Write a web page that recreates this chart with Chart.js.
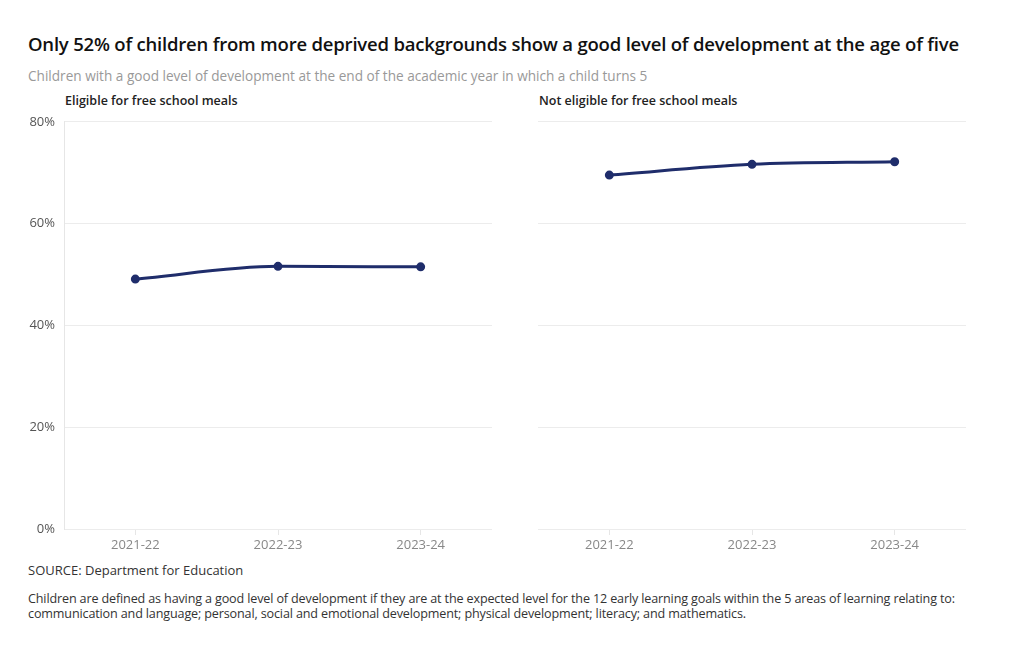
<!DOCTYPE html>
<html>
<head>
<meta charset="utf-8">
<script src="https://cdn.jsdelivr.net/npm/chart.js@4"></script>
<style>
  body { margin: 0; background: #fff; font-family: "Open Sans", sans-serif; }
  .wrap { position: relative; width: 1020px; height: 650px; }
  h1 { position: absolute; left: 28px; top: 31px; margin: 0; font-size: 18.5px; font-weight: 600; color: #111; letter-spacing: -0.2px; }
  .sub { position: absolute; left: 28px; top: 66px; font-size: 13.6px; color: #999; }
  .ptitle { position: absolute; top: 92px; font-size: 12.5px; font-weight: 600; color: #222; }
  .box { position: absolute; width: 480px; }
  .src { position: absolute; left: 28px; top: 561px; font-size: 13px; color: #333; }
  .note { position: absolute; left: 28px; top: 591px; width: 990px; font-size: 12.6px; line-height: 15px; color: #333; letter-spacing: -0.15px; }
</style>
</head>
<body>
<div class="wrap">
  <h1>Only 52% of children from more deprived backgrounds show a good level of development at the age of five</h1>
  <div class="sub">Children with a good level of development at the end of the academic year in which a child turns 5</div>
  <div class="ptitle" style="left:65px">Eligible for free school meals</div>
  <div class="ptitle" style="left:539px">Not eligible for free school meals</div>
  <div class="box" style="left:20px; top:105px; height:456px"><canvas id="left"></canvas></div>
  <div class="box" style="left:494px; top:114px; height:447px"><canvas id="right"></canvas></div>
  <div class="src">SOURCE: Department for Education</div>
  <div class="note">Children are defined as having a good level of development if they are at the expected level for the 12 early learning goals within the 5 areas of learning relating to:<br>communication and language; personal, social and emotional development; physical development; literacy; and mathematics.</div>
</div>
<script>
const years = ['2021-22', '2022-23', '2023-24']
const eligible = [49.1, 51.6, 51.5]
const notEligible = [69.4, 71.5, 72.0]
const yTicks = [0, 20, 40, 60, 80]

function makeChart(id, values, showY) {
    return new Chart(id, {
        type: 'line',
        data: {
            labels: years,
            datasets: [{
                data: values,
                borderColor: '#1f2d6b',
                backgroundColor: '#1f2d6b',
                borderWidth: 3,
                pointRadius: 3,
                cubicInterpolationMode: 'monotone'
            }]
        },
        options: {
            responsive: true,
            maintainAspectRatio: false,
            animation: false,
            layout: { padding: { top: 0, right: 8, left: 0, bottom: 0 } },
            plugins: { legend: { display: false }, tooltip: { enabled: false } },
            scales: {
                x: {
                    offset: true,
                    grid: { drawOnChartArea: false, color: '#e6e6e6', tickLength: 6, offset: false },
                    border: { display: false },
                    ticks: { color: '#888', font: { family: 'Open Sans', size: 13 }, padding: 2 },
                    afterFit: s => { s.height = 32 }
                },
                y: {
                    min: 0, max: 80,
                    afterBuildTicks: s => { s.ticks = yTicks.map(v => ({ value: v })) },
                    grid: { color: '#ececec', drawTicks: false },
                    border: { display: showY, color: '#e6e6e6' },
                    ticks: {
                        display: showY,
                        color: '#555',
                        padding: 9,
                        font: { family: 'Open Sans', size: 13 },
                        callback: v => v + '%'
                    },
                    afterFit: s => { s.width = 44 }
                }
            }
        }
    })
}

makeChart('left', eligible, true)
makeChart('right', notEligible, false)
</script>
</body>
</html>
